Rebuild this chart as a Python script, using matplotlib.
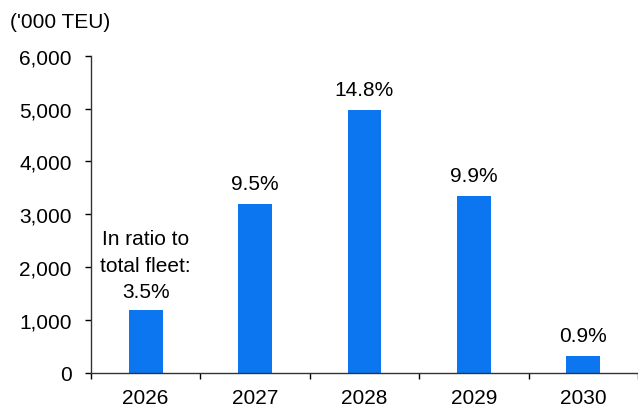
import numpy as np
import matplotlib
matplotlib.use('Agg')
import matplotlib.pyplot as plt
from matplotlib.ticker import FuncFormatter, FixedLocator

plt.rcParams['font.family'] = ['Liberation Sans', 'DejaVu Sans']

years = ['2026', '2027', '2028', '2029', '2030']
capacity = [1190, 3190, 4970, 3350, 320]
ratio_labels = ['In ratio to\ntotal fleet:\n3.5%', '9.5%', '14.8%', '9.9%', '0.9%']

bar_color = '#0B76F0'
fs = 15

fig = plt.figure(figsize=(6.38, 4.10), dpi=100, facecolor='white')
ax = fig.add_axes([0.1426, 0.089, 0.8574, 0.7727])

x = np.arange(len(years))
ax.bar(x, capacity, width=0.31, color=bar_color)

for xi, val, lab in zip(x, capacity, ratio_labels):
    # the multi-line note sits a bit closer to its bar
    off = 6 if '\n' in lab else 8
    ax.annotate(lab, (xi, val), xytext=(0, off), textcoords='offset points',
                ha='center', va='bottom', fontsize=fs, linespacing=1.5)

ax.set_xlim(-0.5, 4.5)
ax.set_ylim(0, 6000)
ax.set_yticks(np.arange(0, 6001, 1000))
ax.yaxis.set_major_formatter(FuncFormatter(lambda v, p: f'{int(v):,}'))
ax.set_xticks(x)
ax.set_xticklabels(years)
ax.xaxis.set_minor_locator(FixedLocator(np.arange(-0.5, 4.6, 1.0)))

ax.tick_params(axis='x', which='major', length=0, pad=11, labelsize=fs)
ax.tick_params(axis='x', which='minor', length=4, width=1, direction='out')
ax.tick_params(axis='y', length=4, width=1, direction='out', pad=10, labelsize=fs)

for side in ['top', 'right']:
    ax.spines[side].set_visible(False)
for side in ['left', 'bottom']:
    ax.spines[side].set_color('#333333')
    ax.spines[side].set_linewidth(1)

fig.text(10 / 638, 1 - 22 / 410, "('000 TEU)", fontsize=fs, ha='left', va='center')

plt.savefig('out.png', dpi=100, facecolor='white')
